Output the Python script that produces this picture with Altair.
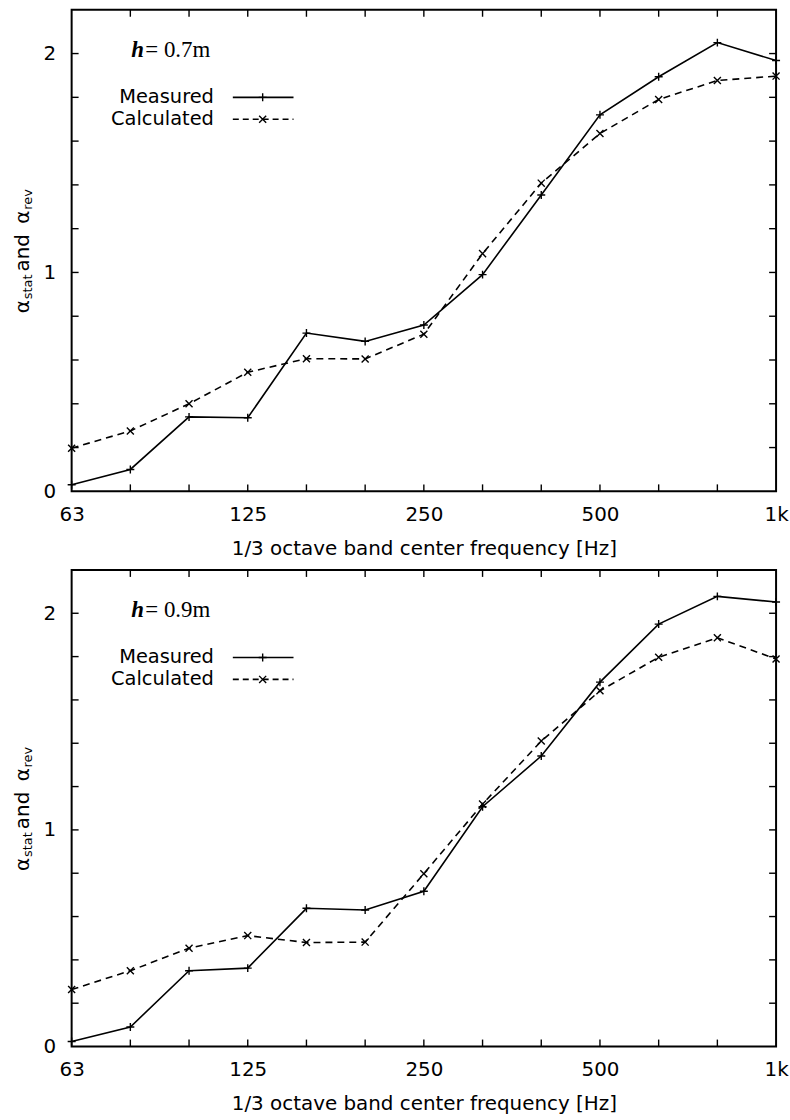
import altair as alt
import pandas as pd

bands = ["63", "80", "100", "125", "160", "200", "250", "315", "400", "500", "630", "800", "1000"]
label_bands = ["63", "125", "250", "500", "1000"]
y_labels = [0, 1, 2]
y_minor = [0.2, 0.4, 0.6, 0.8, 1.0, 1.2, 1.4, 1.6, 1.8, 2.0]

measured_07 = [0.03, 0.10, 0.34, 0.336, 0.723, 0.685, 0.76, 0.99, 1.354, 1.72, 1.894, 2.05, 1.968]
calculated_07 = [0.197, 0.276, 0.40, 0.544, 0.606, 0.605, 0.718, 1.086, 1.408, 1.635, 1.79, 1.877, 1.897]
measured_09 = [0.023, 0.09, 0.35, 0.362, 0.638, 0.63, 0.717, 1.107, 1.341, 1.682, 1.95, 2.078, 2.052]
calculated_09 = [0.263, 0.35, 0.454, 0.512, 0.48, 0.482, 0.798, 1.119, 1.41, 1.642, 1.797, 1.887, 1.789]

PLUS = "M-1,0L1,0M0,-1L0,1"
CROSS = "M-1,-1L1,1M-1,1L1,-1"
SANS = "DejaVu Sans"
SERIF = "Liberation Serif"
W = 708
DASH = [7, 5]


def one():
    return pd.DataFrame({"a": [0]})


def panel(measured, calculated, hlabel, H):
    df = pd.DataFrame({"band": bands, "m": measured, "c": calculated})
    xenc = alt.X(
        "band:O",
        scale=alt.Scale(type="point", domain=bands, padding=0),
        axis=alt.Axis(
            values=label_bands,
            labelExpr="datum.value == '1000' ? '1k' : datum.value",
            labelAngle=0,
            ticks=False,
            domain=False,
            grid=False,
            labelPadding=13,
            labelFont=SANS, labelFontSize=20, labelColor="black",
            title="1/3 octave band center frequency [Hz]",
            titleFont=SANS, titleFontSize=20, titleFontWeight="normal", titleColor="black",
            titlePadding=14,
        ),
    )
    yscale = alt.Scale(domain=[0, 2.2], nice=False, zero=False)

    def yenc(f):
        return alt.Y(
            f,
            scale=yscale,
            axis=alt.Axis(values=y_labels, ticks=False, domain=False, grid=False,
                          labelFont=SANS, labelFontSize=20, labelColor="black",
                          title=None, labelPadding=16),
        )

    base = alt.Chart(df)
    line_m = base.mark_line(color="black", strokeWidth=1.6).encode(x=xenc, y=yenc("m:Q"))
    line_c = base.mark_line(color="black", strokeWidth=1.6, strokeDash=DASH).encode(x=xenc, y=yenc("c:Q"))
    pt_m = base.mark_point(shape=PLUS, filled=False, size=64, color="black", strokeWidth=1.4, opacity=1).encode(x=xenc, y=yenc("m:Q"))
    pt_c = base.mark_point(shape=CROSS, filled=False, size=50, color="black", strokeWidth=1.4, opacity=1).encode(x=xenc, y=yenc("c:Q"))

    xt = alt.Chart(pd.DataFrame({"band": bands[1:-1]}))
    tick_b = xt.mark_rule(color="black", strokeWidth=1.4).encode(x=xenc, y=alt.value(H), y2=alt.value(H - 7))
    tick_t = xt.mark_rule(color="black", strokeWidth=1.4).encode(x=xenc, y=alt.value(0), y2=alt.value(7))
    yt = alt.Chart(pd.DataFrame({"v": y_minor}))
    tick_l = yt.mark_rule(color="black", strokeWidth=1.4).encode(y=yenc("v:Q"), x=alt.value(0), x2=alt.value(7))
    tick_r = yt.mark_rule(color="black", strokeWidth=1.4).encode(y=yenc("v:Q"), x=alt.value(W), x2=alt.value(W - 7))

    # h label
    h_it = alt.Chart(one()).mark_text(text="h", font=SERIF, fontSize=23, fontStyle="italic",
                                      fontWeight="bold", align="left", baseline="middle").encode(
        x=alt.value(60), y=alt.value(40))
    h_rest = alt.Chart(one()).mark_text(text="= " + hlabel + "m", font=SERIF, fontSize=23,
                                        align="left", baseline="middle").encode(
        x=alt.value(74), y=alt.value(40))

    # legend
    leg_m_t = alt.Chart(one()).mark_text(text="Measured", font=SANS, fontSize=19.5, align="right",
                                         baseline="middle").encode(x=alt.value(143), y=alt.value(88))
    leg_c_t = alt.Chart(one()).mark_text(text="Calculated", font=SANS, fontSize=19.5, align="right",
                                         baseline="middle").encode(x=alt.value(143), y=alt.value(110))
    leg_m_l = alt.Chart(one()).mark_rule(color="black", strokeWidth=1.6).encode(
        x=alt.value(162), x2=alt.value(223), y=alt.value(88))
    leg_c_l = alt.Chart(one()).mark_rule(color="black", strokeWidth=1.6, strokeDash=[6, 4]).encode(
        x=alt.value(162), x2=alt.value(223), y=alt.value(110))
    leg_m_p = alt.Chart(one()).mark_point(shape=PLUS, filled=False, size=64, color="black",
                                          strokeWidth=1.4, opacity=1).encode(x=alt.value(192), y=alt.value(88))
    leg_c_p = alt.Chart(one()).mark_point(shape=CROSS, filled=False, size=50, color="black",
                                          strokeWidth=1.4, opacity=1).encode(x=alt.value(192), y=alt.value(110))

    # rotated y title with subscripts: alpha_stat and alpha_rev
    pieces = [("α", 20, 14.0), ("stat", 13, 28.0), ("and", 20, 48.0), ("α", 20, 14.0), ("rev", 13, 22.0)]
    total = sum(p[2] for p in pieces)
    start = H / 2 + total / 2
    ytitle = []
    off = 0.0
    for txt, fs, wd in pieces:
        xpos = -43 if fs == 20 else -40
        ytitle.append(
            alt.Chart(one()).mark_text(text=txt, font=SANS, fontSize=fs, angle=270, align="left",
                                       baseline="alphabetic").encode(
                x=alt.value(xpos), y=alt.value(start - off))
        )
        off += wd

    return alt.layer(
        line_m, line_c, pt_m, pt_c, tick_b, tick_t, tick_l, tick_r,
        h_it, h_rest, leg_m_t, leg_c_t, leg_m_l, leg_c_l, leg_m_p, leg_c_p, *ytitle
    ).properties(width=W, height=H)


top = panel(measured_07, calculated_07, "0.7", 484)
bottom = panel(measured_09, calculated_09, "0.9", 479)

chart = alt.vconcat(top, bottom, spacing=9).properties(
    padding={"left": 12, "top": 5, "right": 0, "bottom": 0},
    background="white",
).configure_view(stroke="black", strokeWidth=2)

chart.save("out.html", embed_options={"renderer": "svg", "actions": False})
